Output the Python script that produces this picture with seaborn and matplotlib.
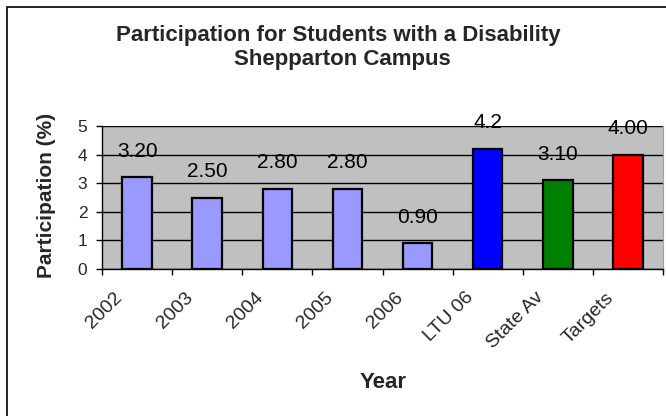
import matplotlib
matplotlib.use("Agg")
import matplotlib.pyplot as plt
import matplotlib.transforms as mtransforms
import seaborn as sns
import pandas as pd
from matplotlib.patches import Rectangle

categories = ["2002", "2003", "2004", "2005", "2006", "LTU 06", "State Av", "Targets"]
values = [3.2, 2.5, 2.8, 2.8, 0.9, 4.2, 3.1, 4.0]
value_labels = ["3.20", "2.50", "2.80", "2.80", "0.90", "4.2", "3.10", "4.00"]
bar_colors = ["#9999FF", "#9999FF", "#9999FF", "#9999FF", "#9999FF", "#0000FF", "#008000", "#FF0000"]
y_ticks = [0, 1, 2, 3, 4, 5]

sns.set_style("white")
plt.rcParams["font.family"] = ["Liberation Sans", "DejaVu Sans"]

df = pd.DataFrame({"Year": categories, "Participation": values})

fig = plt.figure(figsize=(6.66, 4.16), dpi=100)
ax = fig.add_axes([102 / 666, 1 - 269 / 416, (663 - 102) / 666, (269 - 126) / 416])
ax.set_facecolor("#C0C0C0")

sns.barplot(data=df, x="Year", y="Participation", hue="Year", palette=bar_colors,
            order=categories, hue_order=categories, legend=False, width=0.42,
            edgecolor="black", linewidth=1.6, saturation=1, ax=ax, zorder=3)

ax.set_ylim(0, 5)
ax.set_xlim(-0.5, len(categories) - 0.5)
ax.set_yticks(y_ticks)
ax.set_yticklabels([str(t) for t in y_ticks], fontsize=12.5)
ax.yaxis.grid(True, color="black", linewidth=1, zorder=1)
ax.set_axisbelow(True)

# tick marks at category boundaries, labels at category centres
ax.set_xticks([i - 0.5 for i in range(len(categories) + 1)], minor=False)
ax.set_xticklabels([])
ax.set_xticks(range(len(categories)), minor=True)
ax.tick_params(axis="x", which="major", direction="out", length=4.5, width=1, color="black", bottom=True)
ax.tick_params(axis="x", which="minor", length=0, pad=0, bottom=True)
ax.tick_params(axis="y", direction="out", length=4.5, width=1, color="black", left=True, pad=6)
ax.set_xticklabels(categories, minor=True, rotation=45, ha="right", va="top",
                   rotation_mode="anchor", fontsize=14)
offset = mtransforms.ScaledTranslation(-23 / 100, -20 / 100, fig.dpi_scale_trans)
for lab in ax.get_xticklabels(minor=True):
    lab.set_transform(lab.get_transform() + offset)

for sp in ["left", "bottom"]:
    ax.spines[sp].set_color("black")
    ax.spines[sp].set_linewidth(1)
ax.spines["top"].set_visible(False)
ax.spines["right"].set_color("#A0A0A0")
ax.spines["right"].set_linewidth(0.8)

for i, (v, lab) in enumerate(zip(values, value_labels)):
    ax.annotate(lab, xy=(i, v), xytext=(0, 12), textcoords="offset points",
                ha="center", va="bottom", fontsize=15, color="black",
                annotation_clip=False, zorder=5)

ax.set_xlabel("")
ax.set_ylabel("")

fig.text(338 / 666, 1 - 36 / 416, "Participation for Students with a Disability",
         ha="center", va="center", fontsize=16, fontweight="bold")
fig.text(342 / 666, 1 - 60 / 416, "Shepparton Campus",
         ha="center", va="center", fontsize=16, fontweight="bold")
fig.text(47 / 666, 1 - 195 / 416, "Participation (%)", rotation=90,
         ha="center", va="center", fontsize=15, fontweight="bold")
fig.text(383 / 666, 1 - 382 / 416, "Year", ha="center", va="center",
         fontsize=16, fontweight="bold")

fig.patches.append(Rectangle((7 / 666, -0.1), 1.2, 1 - 7 / 416 + 0.1,
                             transform=fig.transFigure, fill=False,
                             edgecolor="black", linewidth=1.2, figure=fig))

fig.savefig("out.png", dpi=100, facecolor="white")
